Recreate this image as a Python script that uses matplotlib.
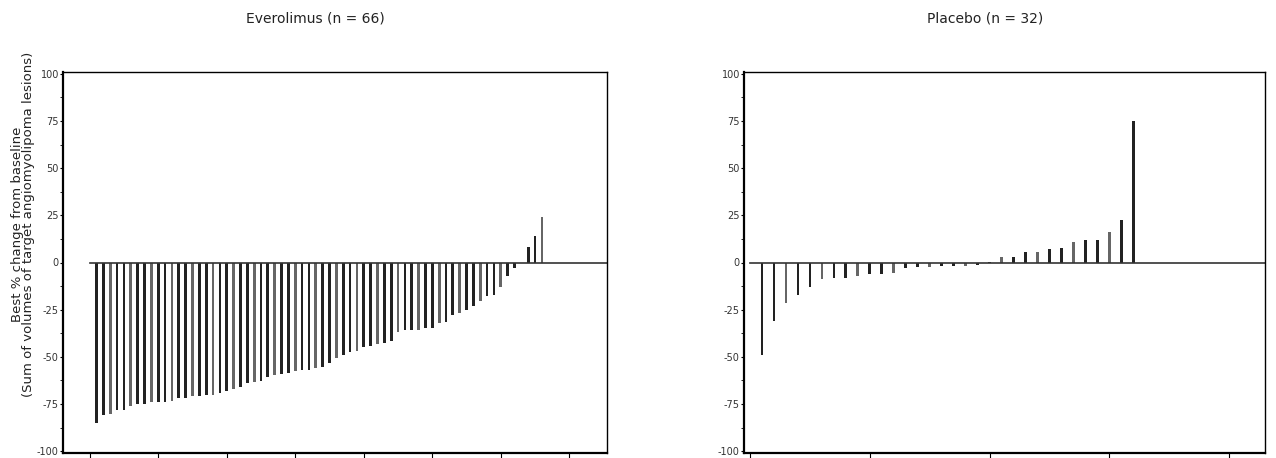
import numpy as np
import matplotlib.pyplot as plt

everolimus = [-85, -81, -80.5, -78, -78, -76, -75, -75, -74, -74, -74, -73.5, -72, -72,
              -71, -71, -70, -70, -69, -68, -67, -66, -64, -63.5, -63, -60.5, -59.5, -59,
              -58.5, -57.5, -57, -56.8, -56, -55.5, -53.5, -50.4, -49, -47.3, -47, -45,
              -44.3, -43.2, -42.5, -41.4, -36.6, -35.7, -35.7, -35.7, -34.8, -34.8, -32,
              -31.8, -28, -26.8, -25, -23, -20.5, -17.8, -17, -13, -7, -2.7, -0.5, 8, 14, 24]
placebo = [-49, -31, -21.3, -17.2, -13.2, -9, -8.1, -8.1, -7.2, -6.3, -6.3, -5.4, -2.7,
           -2.2, -2.2, -2, -2, -1.8, -1.5, 0.5, 2.7, 2.7, 5.8, 5.8, 6.9, 7.6, 10.8, 11.8,
           11.8, 16.3, 22.6, 75]
titles = ["Everolimus (n = 66)", "Placebo (n = 32)"]
yticks = [-100, -75, -50, -25, 0, 25, 50, 75, 100]

fig = plt.figure(figsize=(12.76, 4.58), dpi=100)
axes = [fig.add_axes([63 / 1276, 5 / 458, 544 / 1276, 381 / 458]),
        fig.add_axes([744 / 1276, 5 / 458, 521 / 1276, 381 / 458])]
limits = [(-3.9, 75.5), (-0.5, 43)]
widths = [0.4, 0.22]

for ax, values, title, (x0, x1), w in zip(axes, [everolimus, placebo], titles, limits, widths):
    x = np.arange(1, len(values) + 1)
    colors = ["#222222" if i % 3 != 2 else "#666666" for i in range(len(values))]
    ax.bar(x, values, width=w, color=colors, edgecolor="none")
    ax.plot([0, x1], [0, 0], color="#333333", linewidth=1.2)
    ax.set_xlim(x0, x1)
    ax.set_ylim(-101, 101)
    ax.set_yticks(yticks)
    ax.set_yticklabels([str(t) for t in yticks], fontsize=7, color="#333333")
    ax.set_yticks(np.arange(-100, 101, 12.5), minor=True)
    ax.set_xticks(np.arange(0, x1, 10))
    ax.set_xticklabels([])
    ax.tick_params(axis="y", which="both", length=2, pad=1)
    ax.tick_params(axis="x", length=4, direction="out")
    ax.spines["left"].set_linewidth(1.6)
    ax.spines["bottom"].set_linewidth(1.6)
    ax.spines["top"].set_linewidth(1.0)
    ax.spines["right"].set_linewidth(1.0)
    fig.text((ax.get_position().x0 + ax.get_position().x1) / 2 - 0.015, 1 - 18 / 458,
             title, ha="center", va="center", fontsize=10, color="#222222")

fig.text(0.018, 0.51, "Best % change from baseline\n(Sum of volumes of target angiomyolipoma lesions)",
         rotation=90, ha="center", va="center", fontsize=9.5, color="#222222", linespacing=0.8)

fig.savefig("out.png", dpi=100)
